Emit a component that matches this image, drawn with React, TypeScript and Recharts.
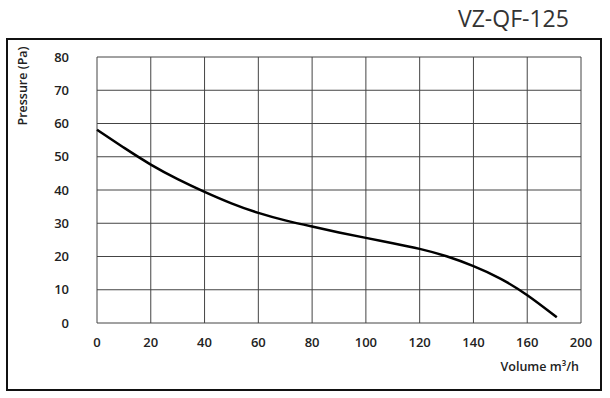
import { LineChart, Line, XAxis, YAxis, CartesianGrid } from "recharts";

const volume = [0, 10, 20, 30, 40, 50, 60, 70, 80, 90, 100, 110, 120, 130, 140, 150, 160, 171];
const pressure = [58.1, 52.7, 47.5, 43.2, 39.4, 35.9, 33.0, 30.8, 29.0, 27.2, 25.6, 24, 22.4, 20.2, 17.2, 13.6, 8.6, 1.7];

const xTicks = [0, 20, 40, 60, 80, 100, 120, 140, 160, 180];
const xTickLabels = ["0", "20", "40", "60", "80", "100", "120", "140", "160", "200"];
const yTicks = [0, 10, 20, 30, 40, 50, 60, 70, 80];

const data = volume.map((v, i) => ({ v, p: pressure[i] }));

const font = "'Open Sans', sans-serif";
const tickStyle = { fontSize: 13, fontWeight: 600, fill: "#222", fontFamily: font };

export default function App() {
  return (
    <div style={{ position: "absolute", left: 0, top: 0, width: 610, height: 398, background: "#fff", fontFamily: font }}>
      <div style={{ position: "absolute", left: 6, top: 38, width: 592, height: 349, border: "2px solid #111" }} />
      <div style={{ position: "absolute", left: 458, top: 2, fontSize: 23, color: "#333" }}>VZ-QF-125</div>
      <div
        style={{
          position: "absolute",
          left: 22,
          top: 86,
          transform: "translate(-50%, -50%) rotate(-90deg)",
          fontSize: 12.5,
          fontWeight: 600,
          color: "#222",
          whiteSpace: "nowrap",
        }}
      >
        Pressure (Pa)
      </div>
      <div style={{ position: "absolute", right: 31, top: 358, fontSize: 12.5, fontWeight: 600, color: "#222" }}>
        Volume m³/h
      </div>
      <LineChart width={610} height={398} data={data} margin={{ top: 57, right: 29, bottom: 0, left: 0 }}>
        <CartesianGrid stroke="#444" horizontalValues={yTicks} verticalValues={xTicks} />
        <XAxis
          dataKey="v"
          type="number"
          domain={[0, 180]}
          ticks={xTicks}
          tickFormatter={(t: number) => xTickLabels[xTicks.indexOf(t)]}
          axisLine={false}
          tickLine={false}
          tick={tickStyle}
          tickMargin={9}
          height={75}
        />
        <YAxis
          type="number"
          domain={[0, 80]}
          ticks={yTicks}
          axisLine={false}
          tickLine={false}
          tick={tickStyle}
          tickMargin={22}
          width={97}
        />
        <Line type="basis" dataKey="p" stroke="#000" strokeWidth={2.5} dot={false} isAnimationActive={false} />
      </LineChart>
    </div>
  );
}
